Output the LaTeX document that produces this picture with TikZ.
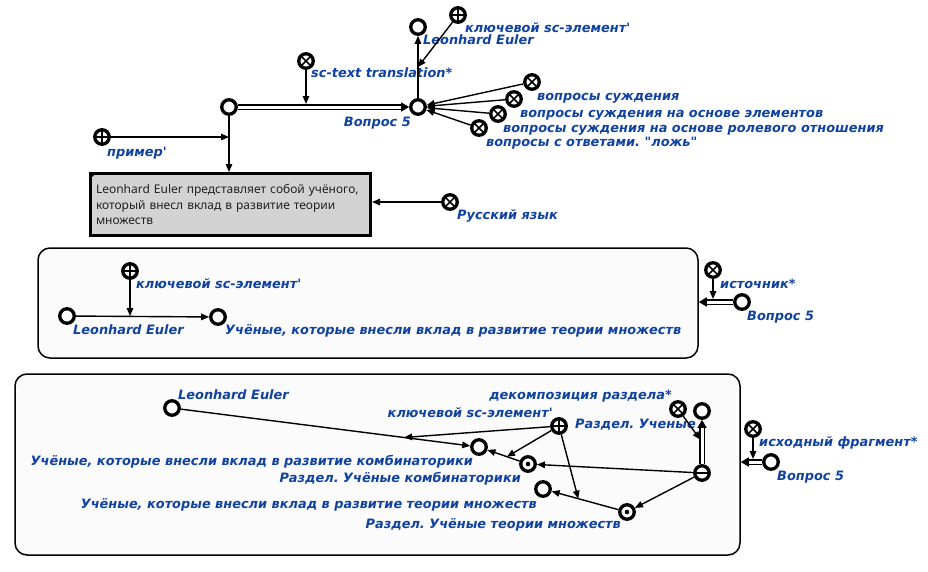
\documentclass[tikz,border=0pt]{standalone}
\usepackage{fontspec}
\newfontfamily\lblfont{DejaVu Sans}[Ligatures=TeXOff]
\newfontfamily\txtfont{Noto Sans}
\usetikzlibrary{arrows.meta,calc}
\definecolor{lblblue}{RGB}{16,66,160}
\definecolor{boxgray}{RGB}{211,211,211}
\definecolor{framebg}{RGB}{251,251,251}
\definecolor{boxtext}{RGB}{34,34,34}
\frenchspacing

\begin{document}
\begin{tikzpicture}[x=1pt,y=-1pt,
  vtx/.style={circle, draw=black, line width=3.3pt, minimum size=14.5pt, inner sep=0pt, fill=white},
  vplus/.style={vtx, path picture={\draw[line width=1.7pt]
      (path picture bounding box.north) -- (path picture bounding box.south)
      (path picture bounding box.west) -- (path picture bounding box.east);}},
  vcross/.style={vtx, path picture={\draw[line width=1.7pt]
      (path picture bounding box.north west) -- (path picture bounding box.south east)
      (path picture bounding box.north east) -- (path picture bounding box.south west);}},
  vdot/.style={vtx, path picture={\fill[black] (path picture bounding box.center) circle[radius=2.3pt];}},
  vminus/.style={vtx, path picture={\draw[line width=1.7pt]
      (path picture bounding box.west) -- (path picture bounding box.east);}},
  lbl/.style={font=\lblfont\bfseries\itshape\fontsize{12.9}{15}\selectfont, text=lblblue, inner sep=0pt},
  arr/.style={line width=1.4pt, -{Triangle[length=8pt,width=6.5pt]}},
  dbl/.style={double=white, double distance=3pt, line width=1.5pt, -{Triangle[length=8pt,width=9pt]}},
  scframe/.style={draw=black, line width=1.5pt, fill=framebg, rounded corners=12pt, inner sep=0pt},
  textbox/.style={draw=black, line width=3pt, fill=boxgray, inner xsep=5.5pt, inner ysep=0pt,
      minimum width=280pt, minimum height=62pt, text width=269pt, align=left,
      font=\txtfont\fontsize{12}{15.6}\selectfont, text=boxtext}
]
\useasboundingbox (0,0) rectangle (928,571);

% ---------- contour frames ----------
\node[scframe, minimum width=660pt, minimum height=110pt] (fr1) at (368,303) {};
\node[scframe, minimum width=725pt, minimum height=181pt] (fr2) at (377.5,464.5) {};

% ---------- upper part: question and its text ----------
\node[vtx] (n0) at (229,107) {};
\node[vtx] (q1) at (418,107) {};
\node[vtx] (eu1) at (418,27) {};
\node[vcross] (tt) at (306,61) {};
\node[vplus] (k1) at (458,15) {};
\node[vcross] (v1) at (532,82) {};
\node[vcross] (v2) at (514,99) {};
\node[vcross] (v3) at (498,114) {};
\node[vcross] (v4) at (479,128) {};
\node[vplus] (pr) at (102,137) {};
\node[vcross] (ru) at (450,202) {};
\node[textbox] (box) at (230.5,204.5) {Leonhard Euler представляет собой учёного,\\который внесл вклад в развитие теории\\множеств};
\fill ($(box.north west)+(1.5,1.5)$) -- ++(5,0) -- ++(-5,5) -- cycle;

\node[lbl, anchor=base west] at (311,77.5) {sc-text translation*};
\node[lbl, anchor=base west] at (423,44.5) {Leonhard Euler};
\node[lbl, anchor=base west] at (465,32) {ключевой sc-элемент'};
\node[lbl, anchor=base east] at (411,126) {Вопрос 5};
\node[lbl, anchor=base west] at (537,100) {вопросы суждения};
\node[lbl, anchor=base west] at (520,117) {вопросы суждения на основе элементов};
\node[lbl, anchor=base west] at (503,132) {вопросы суждения на основе ролевого отношения};
\node[lbl, anchor=base west] at (486,146) {вопросы с ответами. "ложь"};
\node[lbl, anchor=base west] at (107,156) {пример'};
\node[lbl, anchor=base west] at (457,219.5) {Русский язык};

\draw[dbl] (n0) -- (q1);
\draw[arr, shorten >=3pt] (tt) -- (tt |- n0);
\coordinate (m1b) at ($(q1)!0.5!(eu1)$);
\draw[arr] (q1) -- (eu1);
\draw[arr] (k1) -- (m1b);
\foreach \v in {v1,v2,v3,v4} \draw[arr] (\v) -- (q1);
\draw[arr] (n0) -- (n0 |- box.north);
\draw[arr] (pr) -- (n0 |- pr);
\draw[arr] (ru) -- (ru -| box.east);

% ---------- middle contour ----------
\node[vplus] (k2) at (130,271) {};
\node[vtx] (eu2) at (67,316) {};
\node[vtx] (s1) at (218,317) {};
\node[vcross] (src) at (713,270) {};
\node[vtx] (q2) at (742,302) {};

\node[lbl, anchor=base west] at (136,288) {ключевой sc-элемент'};
\node[lbl, anchor=base west] at (73,334.5) {Leonhard Euler};
\node[lbl, anchor=base west] at (225,334.5) {Учёные, которые внесли вклад в развитие теории множеств};
\node[lbl, anchor=base west] at (720,288) {источник*};
\node[lbl, anchor=base west] at (747,320.5) {Вопрос 5};

\draw[arr] (eu2) -- (s1);
\draw[arr] (k2) -- (k2 |- eu2);
\draw[dbl] (q2) -- (q2 -| fr1.east);
\draw[arr, shorten >=3pt] (src) -- (src |- q2);

% ---------- lower contour ----------
\node[vtx] (eu3) at (172,408) {};
\node[vtx] (c1) at (479,447) {};
\node[vdot] (d1) at (528,464) {};
\node[vtx] (c2) at (543,489) {};
\node[vdot] (d2) at (627,512) {};
\node[vplus] (k3) at (559,426) {};
\node[vminus] (u) at (702,473) {};
\node[vtx] (ru2) at (702,411) {};
\node[vcross] (dec) at (678,409) {};
\node[vcross] (src2) at (753,429) {};
\node[vtx] (q3) at (771,462) {};

\node[lbl, anchor=base west] at (178,399.5) {Leonhard Euler};
\node[lbl, anchor=base east] at (672,399.5) {декомпозиция раздела*};
\node[lbl, anchor=base east] at (553,417) {ключевой sc-элемент'};
\node[lbl, anchor=base west] at (575,428) {Раздел. Ученые};
\node[lbl, anchor=base east] at (473,465.5) {Учёные, которые внесли вклад в развитие комбинаторики};
\node[lbl, anchor=base east] at (521,482) {Раздел. Учёные комбинаторики};
\node[lbl, anchor=base east] at (537,508) {Учёные, которые внесли вклад в развитие теории множеств};
\node[lbl, anchor=base east] at (621,528.5) {Раздел. Учёные теории множеств};
\node[lbl, anchor=base west] at (759,446) {исходный фрагмент*};
\node[lbl, anchor=base west] at (777,480.5) {Вопрос 5};

\coordinate (m3a) at ($(eu3)!0.756!(c1)$);
\coordinate (m3b) at ($(d1)!0.43!(c1)$);
\coordinate (m3c) at ($(d2)!0.58!(c2)$);
\coordinate (m3d) at ($(u)!0.5!(ru2)$);
\draw[arr] (eu3) -- (c1);
\draw[arr] (d1) -- (c1);
\draw[arr] (d2) -- (c2);
\draw[arr] (u) -- (d1);
\draw[arr] (u) -- (d2);
\draw[arr] (k3) -- (m3a);
\draw[arr] (k3) -- (m3b);
\draw[arr] (k3) -- (m3c);
\draw[dbl] (u) -- (ru2);
\draw[arr, shorten >=3pt] (dec) -- (m3d);
\draw[dbl] (q3) -- (q3 -| fr2.east);
\draw[arr, shorten >=3pt] (src2) -- (src2 |- q3);
\end{tikzpicture}
\end{document}
